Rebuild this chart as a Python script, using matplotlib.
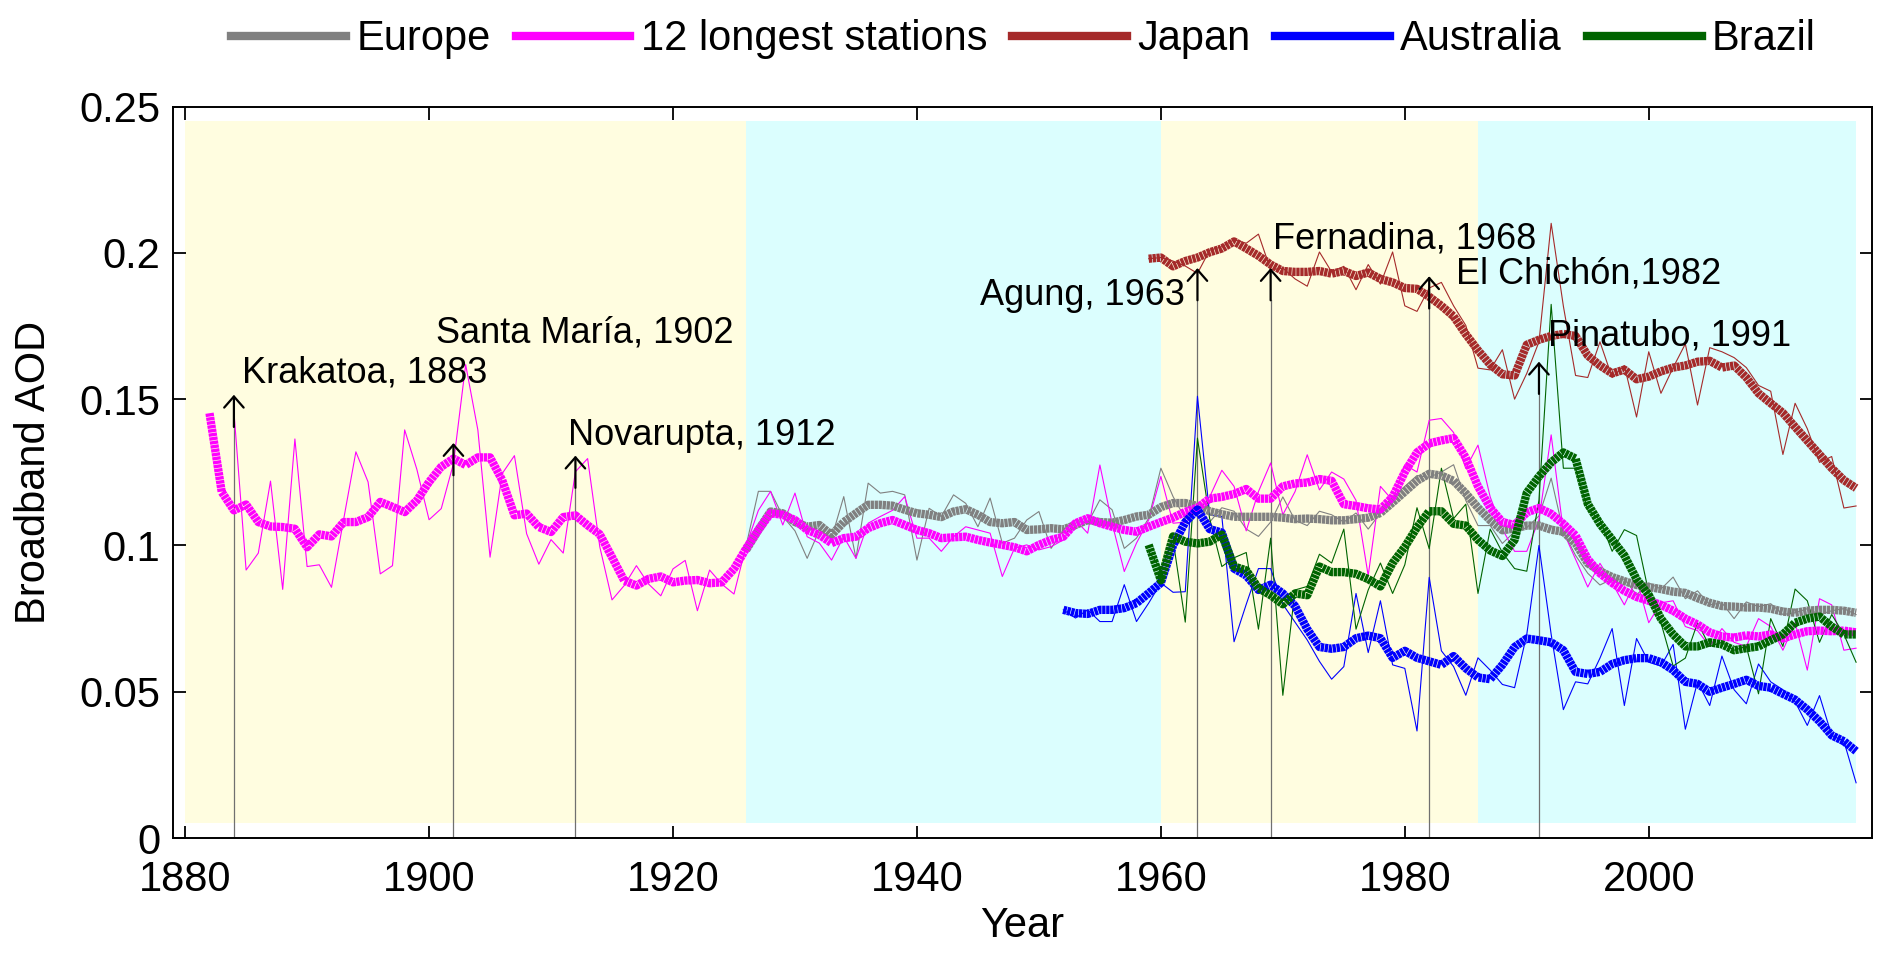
import numpy as np
import matplotlib
matplotlib.use("Agg")
import matplotlib.pyplot as plt
from matplotlib.lines import Line2D

plt.rcParams["font.family"] = ["Liberation Sans", "DejaVu Sans"]

# ── Data ─────────────────────────────────────────────────────────────────────

longest_thin_years = np.arange(1884, 2018)
longest_thin = [
    .1458, .0916, .0974, .122, .085, .1364, .0928, .0934, .0857, .109,
    .132, .1217, .0903, .0931, .1395, .126, .1088, .1126, .128, .1618,
    .1395, .096, .1246, .1307, .104, .0936, .102, .0974, .1252, .1297,
    .0995, .0814, .0863, .0931, .0868, .0828, .092, .0949, .0777, .0916,
    .0868, .0834,
    .100, .112, .1185, .107, .1179, .103, .1008, .095, .103, .0956,
    .1076, .1099, .112, .1167, .1025, .1025, .098, .103, .1064, .1053,
    .1042, .0894, .0991, .1002, .0985, .0996, .1019, .1087, .1042, .1275,
    .1076, .0911, .1008, .1087, .1236, .1076,
    .108, .1117, .1166, .1257, .1202, .105, .1184, .1282, .1105, .1184,
    .131, .119, .1251, .1227, .1154, .0897, .1202, .1154, .1276, .1251,
    .1428, .1434, .1386, .1263, .1343, .1166, .1056,
    .098, .098, .1088, .1378, .1047, .0953, .0858, .0939, .0872, .0797,
    .0885, .0736, .0804, .0811, .0723, .0709, .0655, .0716, .0669, .0655,
    .075, .0723, .0642, .0736, .0574, .0818, .0797, .0642, .0649,
]
longest_smooth_years = np.arange(1882, 2018)
longest_smooth = [
    .1452, .1183, .112, .114, .108, .1065, .1063, .1057, .0994, .1038,
    .1031, .108, .108, .1097, .1149, .1132, .1114, .1154, .1217, .1269,
    .1297, .1275, .1301, .1301, .1223, .1103, .1109, .1063, .1046, .1097,
    .1103, .1069, .1038, .096, .088, .0863, .0886, .0894, .0874, .088,
    .0882, .0871, .0874, .092, .099, .1053, .111, .1105, .1087, .1053,
    .1036, .1008, .1025, .103, .1059, .1076, .1087, .107, .1053, .1042,
    .1025, .1028, .103, .1019, .101, .1002, .0994, .098, .1002, .1019,
    .103, .1076, .1093, .1076, .1064, .1053, .1047, .1064, .108, .1095,
    .1115, .1129, .116, .1166, .1176, .1193, .116, .116, .1202, .1212,
    .1215, .1227, .1221, .1141, .1135, .1127, .1123, .1166, .1251, .1318,
    .1349, .1359, .1367, .13, .1202, .1129, .108, .107, .1113, .1128,
    .1108, .1074, .1034, .0953, .0905, .0872, .0845, .0824, .0811, .0797,
    .0777, .075, .073, .0703, .0689, .0685, .0693, .0689, .0696, .0682,
    .0696, .0707, .0709, .0707, .0709, .0703,
]

europe_years = np.arange(1926, 2018)
europe_thin = [
    .100, .1185, .1185, .110, .105, .0956, .1053, .1025, .1167, .0956,
    .1213, .1179, .1185, .1173, .095, .1127, .1099, .1173, .1144, .1064,
    .1162, .1008, .1025, .1087, .1116, .099, .1053, .1087, .1076, .1156,
    .1122, .099, .1025, .1093, .1264, .1167, .1092, .1129, .108, .1129,
    .1117, .1056, .1031, .108, .1166, .1086, .1068, .1117, .1105, .108,
    .1111, .1056, .1111, .1166, .1202, .1239, .1233, .1251, .1276, .1154,
    .1068, .1068, .1007, .1047, .1061, .1101, .123, .1047, .0966, .0905,
    .0865, .0885, .0885, .0831, .0872, .0851, .0892, .0818, .0845, .0797,
    .0804, .075, .0807, .0791, .0801, .0764, .077, .0784, .0764, .0777,
    .0784, .0764,
]
europe_smooth = [
    .0985, .1053, .1116, .111, .108, .1064, .107, .1036, .108, .111,
    .1139, .1139, .1136, .1122, .111, .1105, .1097, .1116, .1124, .1105,
    .108, .1076, .108, .1053, .1055, .1059, .1055, .107, .1087, .108,
    .1078, .1087, .1099, .1105, .1131, .1145, .1145, .1135, .1117, .1107,
    .1098, .1098, .1098, .1098, .1095, .109, .1092, .109, .1086, .1086,
    .109, .1095, .1111, .1147, .1184, .1221, .1245, .1239, .1221, .1178,
    .1129, .1086, .1052, .1058, .1068, .1068, .1054, .1047, .1007, .0939,
    .0912, .0892, .0878, .0865, .0858, .0851, .0842, .0838, .082, .0804,
    .0793, .0791, .0788, .0788, .0784, .0774, .077, .0777, .078, .078,
    .0777, .077,
]

japan_years = np.arange(1959, 2018)
japan_thin = [
    .198, .1984, .1972, .1955, .193, .2009, .2021, .2045, .2033, .2064,
    .1942, .1948, .1911, .1886, .2003, .1935, .1954, .1874, .196, .1893,
    .2003, .1819, .18, .188, .1899, .1819, .1752, .1606, .16, .1669,
    .15, .1588, .1696, .2101, .1818, .1581, .1574, .1696, .1574, .1615,
    .1439, .1662, .152, .1608, .1689, .148, .1676, .1662, .1642, .1608,
    .1547, .1527, .1311, .1486, .1399, .1284, .1304, .1128, .1135,
]
japan_smooth = [
    .198, .1984, .1954, .1972, .1984, .2002, .2015, .2039, .2015, .199,
    .196, .1938, .1935, .1935, .1938, .1929, .1938, .1921, .1933, .1911,
    .1899, .188, .1877, .185, .1819, .1783, .1722, .1667, .1618, .1585,
    .1581, .1686, .1703, .1716, .1723, .1716, .1649, .1615, .1588, .1601,
    .1568, .1577, .1595, .1608, .1615, .1628, .1631, .1608, .1615, .1574,
    .152, .1486, .1453, .1405, .1358, .1311, .1264, .1223, .1196,
]

australia_years = np.arange(1952, 2018)
australia_thin = [
    .078, .0752, .078, .074, .074, .0866, .074, .0803, .0872, .084,
    .0842, .151, .1105, .1099, .0671, .0799, .0921, .0921, .0799, .0738,
    .0677, .0604, .0543, .0586, .0836, .0634, .0811, .0592, .058, .0366,
    .0891, .064, .0586, .0488, .0616, .0574, .0525, .0514, .0696, .1,
    .0696, .0439, .0534, .0527, .0615, .0716, .0453, .0682, .0601, .0588,
    .0662, .0372, .0534, .0453, .0622, .0507, .0459, .0595, .0534, .0507,
    .0466, .0385, .0487, .0351, .0331, .0189,
]
australia_smooth = [
    .078, .0769, .0766, .078, .078, .0786, .0803, .0837, .0872, .1,
    .108, .1123, .1056, .1044, .0921, .0897, .0848, .0866, .0836, .0793,
    .0714, .0653, .0647, .0653, .0683, .0692, .0683, .0616, .064, .0616,
    .0604, .0592, .0622, .058, .0549, .0543, .0592, .0653, .0682, .0676,
    .0669, .0642, .0568, .0561, .0568, .0595, .0608, .0615, .0615, .0601,
    .0574, .0534, .0527, .05, .0514, .0527, .0541, .052, .0514, .0493,
    .0473, .0439, .0399, .0351, .0331, .0297,
]

brazil_years = np.arange(1959, 2018)
brazil_thin = [
    .098, .092, .1019, .0738, .1367, .1092, .0928, .0958, .0976, .0714,
    .1025, .0488, .0848, .086, .097, .094, .1056, .0714, .0848, .094,
    .0836, .0934, .1129, .0989, .1264, .1092, .1141, .0836, .1056, .0976,
    .0921, .0912, .1155, .1824, .1264, .1264, .1122, .1088, .098, .1054,
    .1034, .0838, .0736, .0588, .0615, .0736, .0655, .0669, .0642, .0655,
    .0493, .075, .0655, .0851, .0811, .0669, .0764, .0696, .0601,
]
brazil_smooth = [
    .1002, .0881, .1031, .1013, .1007, .1013, .1037, .0928, .0915, .0854,
    .083, .0799, .0836, .083, .0928, .0909, .0909, .0903, .0885, .086,
    .094, .0995, .1062, .1117, .1117, .1074, .1068, .1019, .0983, .0964,
    .1019, .118, .1236, .1284, .1318, .1297, .1142, .1074, .102, .0966,
    .0885, .0831, .075, .0696, .0655, .0655, .0669, .0662, .0642, .0649,
    .0655, .0676, .0696, .0736, .075, .0757, .0723, .0696, .0696,
]

# shaded periods (start, end, colour)
period_starts = [1880, 1926, 1960, 1986]
period_ends = [1926, 1960, 1986, 2017]
period_colors = ["#FFFDE0", "#DBFEFE", "#FFFDE0", "#DBFEFE"]

# volcanic eruptions: line year, arrow tip, label, label x, label baseline
event_years = [1884, 1902, 1912, 1963, 1969, 1982, 1991]
event_tips = [0.1515, 0.135, 0.1307, 0.1948, 0.1948, 0.192, 0.1628]
event_labels = ["Krakatoa, 1883", "Santa María, 1902", "Novarupta, 1912",
                "Agung, 1963", "Fernadina, 1968", "El Chichón,1982",
                "Pinatubo, 1991"]
label_x = [1884.7, 1900.6, 1911.4, 1962.0, 1969.2, 1984.2, 1991.75]
label_y = [0.1556, 0.1693, 0.1343, 0.1823, 0.2014, 0.1895, 0.1682]
label_ha = ["left", "left", "left", "right", "left", "left", "left"]

SERIES = [
    ("Europe", europe_years, europe_thin, europe_years, europe_smooth, "#808080"),
    ("12 longest stations", longest_thin_years, longest_thin,
     longest_smooth_years, longest_smooth, "#FF00FF"),
    ("Japan", japan_years, japan_thin, japan_years, japan_smooth, "#A52A2A"),
    ("Australia", australia_years, australia_thin, australia_years,
     australia_smooth, "#0000FF"),
    ("Brazil", brazil_years, brazil_thin, brazil_years, brazil_smooth, "#006400"),
]

# ── Plot ─────────────────────────────────────────────────────────────────────

fig = plt.figure(figsize=(18.92, 9.6), dpi=100)
ax = fig.add_axes([0.0914, 0.127, 0.898, 0.762])

for x0, x1, c in zip(period_starts, period_ends, period_colors):
    ax.fill_between([x0, x1], 0.005, 0.245, color=c, lw=0, zorder=0)

ARROW_LEN = 0.011
for yr, tip in zip(event_years, event_tips):
    ax.plot([yr, yr], [0, tip - ARROW_LEN], color="#707070", lw=0.9, zorder=1)
    ax.annotate("", xy=(yr, tip), xytext=(yr, tip - ARROW_LEN),
                arrowprops=dict(arrowstyle="->,head_length=0.4,head_width=0.35",
                                color="k", lw=1.6, shrinkA=0, shrinkB=0,
                                mutation_scale=20),
                zorder=6)

handles = []
for name, xt, yt, xs, ys, c in SERIES:
    ax.plot(xt, yt, color=c, lw=0.8, zorder=2)
for name, xt, yt, xs, ys, c in SERIES:
    ax.plot(xs, ys, color=c, lw=6, ls=(0, (0.4, 0.08)),
            solid_capstyle="butt", dash_capstyle="butt", zorder=3)
    handles.append(Line2D([], [], color=c, lw=6, label=name))

for txt, x, y, ha in zip(event_labels, label_x, label_y, label_ha):
    ax.text(x, y, txt, ha=ha, va="baseline", fontsize=26, zorder=7)

ax.set_xlim(1879.0, 2018.3)
ax.set_ylim(0, 0.25)
ax.set_xticks([1880, 1900, 1920, 1940, 1960, 1980, 2000])
ax.set_yticks([0, 0.05, 0.1, 0.15, 0.2, 0.25])
ax.set_yticklabels(["0", "0.05", "0.1", "0.15", "0.2", "0.25"])
ax.tick_params(direction="in", length=9, width=1.3, top=True, right=True,
               labelsize=30)
ax.tick_params(axis="x", pad=16)
ax.tick_params(axis="y", pad=9)
for sp in ax.spines.values():
    sp.set_linewidth(1.4)

ax.set_xlabel("Year", fontsize=30, labelpad=4)
ax.set_ylabel("Broadband AOD", fontsize=30)
ax.yaxis.set_label_coords(-0.070, 0.5)

fig.legend(handles=handles, loc="center", bbox_to_anchor=(0.541, 0.959),
           ncol=5, frameon=False, fontsize=30, handlelength=2.75,
           handletextpad=0.25, columnspacing=0.6, borderaxespad=0)

fig.savefig("out.png", dpi=100)
